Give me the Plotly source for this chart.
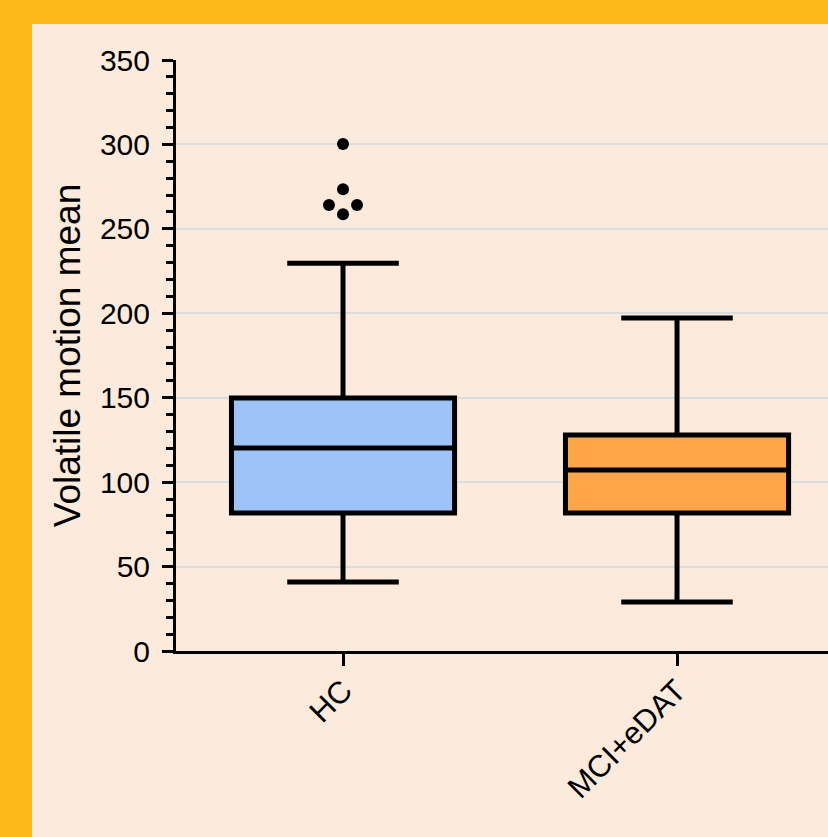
import plotly.graph_objects as go

categories = ["HC", "MCI+eDAT"]
q1 = [81.7, 81.7]
median = [120.2, 107.2]
q3 = [149.8, 127.9]
lower_whisker = [40.9, 29.0]
upper_whisker = [229.7, 197.2]
box_colors = ["#9DC3F8", "#FFA54A"]

outlier_values = [300.2, 273.5, 264.1, 264.1, 258.7]
outlier_offsets = [0.0, 0.0, -0.042, 0.042, 0.0]
outlier_group = [0, 0, 0, 0, 0]

y_ticks = [0, 50, 100, 150, 200, 250, 300, 350]

W, H = 828, 837
ML, MR, MT, MB = 176, 0, 60, 186

fig = go.Figure()
for i, cat in enumerate(categories):
    fig.add_trace(go.Box(
        x=[i], q1=[q1[i]], median=[median[i]], q3=[q3[i]],
        lowerfence=[lower_whisker[i]], upperfence=[upper_whisker[i]],
        width=0.668, whiskerwidth=0.5,
        fillcolor=box_colors[i],
        line=dict(color="black", width=5),
        boxpoints=False, name=cat, showlegend=False,
    ))

fig.add_trace(go.Scatter(
    x=[g + o for g, o in zip(outlier_group, outlier_offsets)],
    y=outlier_values, mode="markers",
    marker=dict(color="black", size=12, symbol="circle"),
    showlegend=False, hoverinfo="y",
))

pw = W - ML - MR
ph = H - MT - MB
fig.add_shape(type="rect", xref="paper", yref="paper",
              x0=(32 - ML) / pw, x1=(W - ML) / pw + 0.01,
              y0=-(H - MT - ph) / ph - 0.01, y1=1 + (MT - 24) / ph,
              fillcolor="#FCEBDD", line=dict(width=0), layer="below")

fig.update_layout(
    width=W, height=H,
    margin=dict(l=ML, r=MR, t=MT, b=MB),
    paper_bgcolor="#FDB819",
    plot_bgcolor="#FCEBDD",
    font=dict(family="Liberation Sans, Arial, sans-serif", color="black"),
    showlegend=False,
)
fig.update_xaxes(
    range=[-0.5, 1.452], tickvals=[0, 1], ticktext=categories,
    tickangle=-45, ticks="outside", ticklen=12, tickwidth=3, tickcolor="black",
    showline=True, linecolor="black", linewidth=3, showgrid=False, zeroline=False,
    tickfont=dict(size=31), ticklabelstandoff=-6,
)
fig.update_yaxes(
    range=[0, 350], tickvals=y_ticks,
    ticks="outside", ticklen=11, tickwidth=3, tickcolor="black",
    minor=dict(dtick=10, ticks="outside", ticklen=7, tickwidth=2.5, tickcolor="black", showgrid=False),
    showline=True, linecolor="black", linewidth=3,
    showgrid=True, gridcolor="#D8DDE0", gridwidth=2, zeroline=False,
    tickfont=dict(size=30), ticklabelstandoff=6,
    title=dict(text="Volatile motion mean", font=dict(size=37), standoff=8),
)

fig.write_html("out.html",
               config={"displayModeBar": False},
               post_script="document.body.style.margin='0';document.body.style.padding='0';")
